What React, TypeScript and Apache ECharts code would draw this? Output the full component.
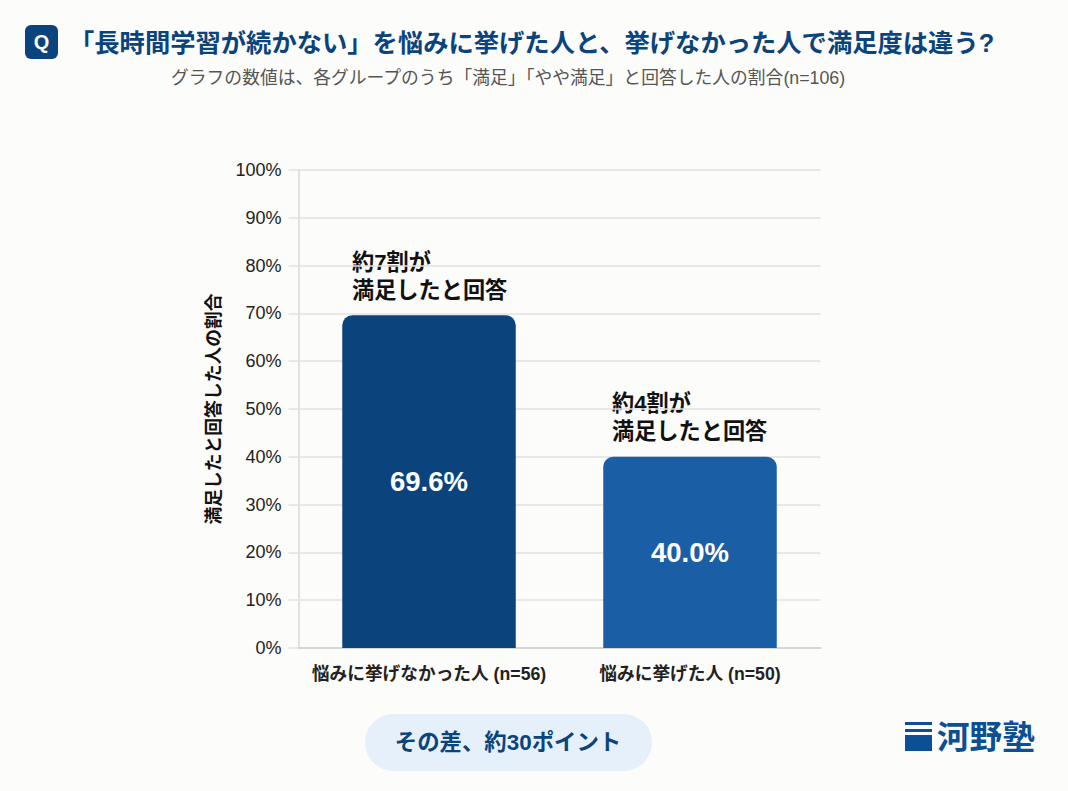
import React, { useEffect, useRef } from "react";
import * as echarts from "echarts";

const FONT = '"Liberation Sans", "Noto Sans CJK JP", sans-serif';
const categories = ["悩みに挙げなかった人 (n=56)", "悩みに挙げた人 (n=50)"];
const values = [69.6, 40.0];
const barColors = ["#0b437c", "#1a5fa6"];
const yTicks = { min: 0, max: 100, interval: 10 };
const yName = "満足したと回答した人の割合";
const titleText = "「長時間学習が続かない」を悩みに挙げた人と、挙げなかった人で満足度は違う?";
const subtitleText = "グラフの数値は、各グループのうち「満足」「やや満足」と回答した人の割合(n=106)";
const notes = ["約7割が\n満足したと回答", "約4割が\n満足したと回答"];
const pillText = "その差、約30ポイント";
const logoText = "河野塾";

export default function App() {
  const ref = useRef<HTMLDivElement>(null);
  useEffect(() => {
    document.body.style.margin = "0";
    const chart = echarts.init(ref.current!, null, { renderer: "svg" });
    chart.setOption({
      animation: false,
      backgroundColor: "#fcfcfa",
      grid: { left: 298.5, right: 247.5, top: 170, bottom: 143 },
      xAxis: {
        type: "category",
        data: categories,
        axisTick: { show: false },
        axisLine: { lineStyle: { color: "#cfcfcc", width: 1.5 } },
        axisLabel: { color: "#222", fontFamily: FONT, fontSize: 17.7, fontWeight: "bold", margin: 17, interval: 0 },
      },
      yAxis: {
        type: "value",
        ...yTicks,
        name: yName,
        nameLocation: "middle",
        nameGap: 76,
        nameTextStyle: { color: "#111", fontFamily: FONT, fontSize: 17.8, fontWeight: "bold" },
        axisLine: { show: true, lineStyle: { color: "#e2e2df", width: 2 } },
        axisTick: { show: true, length: 10, lineStyle: { color: "#e2e2df", width: 1.5 } },
        splitLine: { lineStyle: { color: "#e2e2df", width: 1.5 } },
        axisLabel: { color: "#222", fontFamily: FONT, fontSize: 18, margin: 17, formatter: "{value}%" },
      },
      series: [
        {
          type: "bar",
          barWidth: 173.5,
          data: values.map((v, i) => ({ value: v, itemStyle: { color: barColors[i] } })),
          itemStyle: { borderRadius: [10, 10, 0, 0] },
          label: {
            show: true,
            position: "inside",
            color: "#fff",
            fontFamily: FONT,
            fontSize: 27.5,
            fontWeight: "bold",
            formatter: (p: any) => p.value.toFixed(1) + "%",
          },
        },
      ],
      graphic: [
        { type: "rect", x: 25, y: 25, shape: { width: 33, height: 34, r: 6 }, style: { fill: "#0b437c" } },
        { type: "text", x: 41.5, y: 42, style: { text: "Q", fill: "#fff", font: `bold 20px ${FONT}`, align: "center", verticalAlign: "middle" } },
        { type: "text", x: 69, y: 42.5, style: { text: titleText, fill: "#0b437c", font: `bold 25.3px ${FONT}`, verticalAlign: "middle" } },
        { type: "text", x: 171, y: 78, style: { text: subtitleText, fill: "#555", font: `17.8px ${FONT}`, verticalAlign: "middle" } },
        { type: "text", x: 352, y: 276, style: { text: notes[0], fill: "#111", font: `bold 22.2px ${FONT}`, lineHeight: 28, verticalAlign: "middle" } },
        { type: "text", x: 612, y: 417, style: { text: notes[1], fill: "#111", font: `bold 22.2px ${FONT}`, lineHeight: 28, verticalAlign: "middle" } },
        { type: "rect", x: 365, y: 714, shape: { width: 287, height: 57, r: 28.5 }, style: { fill: "#e6f0fb" } },
        { type: "text", x: 508, y: 742, style: { text: pillText, fill: "#0b437c", font: `bold 22.4px ${FONT}`, align: "center", verticalAlign: "middle" } },
        { type: "rect", x: 905, y: 722, shape: { width: 27, height: 3 }, style: { fill: "#0b4f94" } },
        { type: "rect", x: 905, y: 729, shape: { width: 27, height: 3 }, style: { fill: "#0b4f94" } },
        { type: "rect", x: 905, y: 735, shape: { width: 27, height: 16 }, style: { fill: "#0b4f94" } },
        { type: "text", x: 937, y: 737, style: { text: logoText, fill: "#0b4f94", font: `bold 32.6px ${FONT}`, verticalAlign: "middle" } },
      ],
    });
    return () => chart.dispose();
  }, []);
  return <div ref={ref} style={{ width: 1068, height: 791 }} />;
}
